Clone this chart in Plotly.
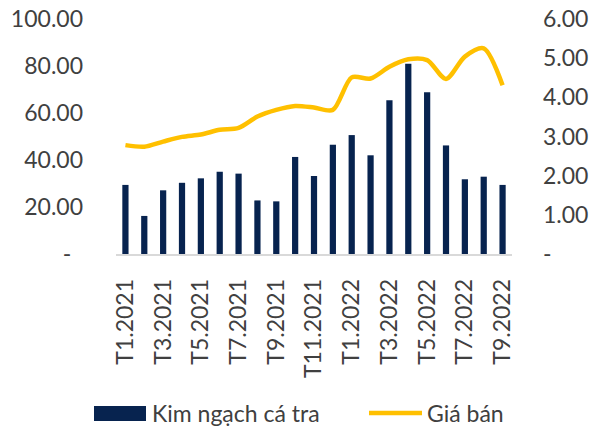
import plotly.graph_objects as go

months = ["T1.2021", "T2.2021", "T3.2021", "T4.2021", "T5.2021", "T6.2021", "T7.2021",
          "T8.2021", "T9.2021", "T10.2021", "T11.2021", "T12.2021", "T1.2022", "T2.2022",
          "T3.2022", "T4.2022", "T5.2022", "T6.2022", "T7.2022", "T8.2022", "T9.2022"]
kim_ngach = [29.4, 16.2, 27.1, 30.3, 32.2, 35.0, 34.2, 22.8, 22.4, 41.3, 33.2,
             46.5, 50.6, 42.0, 65.4, 81.0, 68.8, 46.2, 31.8, 32.9, 29.4]
gia_ban = [2.78, 2.74, 2.87, 2.99, 3.05, 3.17, 3.22, 3.51, 3.68, 3.78, 3.74,
           3.68, 4.51, 4.48, 4.78, 4.97, 4.95, 4.47, 5.04, 5.25, 4.31]
left_ticks = [0, 20, 40, 60, 80, 100]
left_text = ["-\u00a0\u00a0", "20.00", "40.00", "60.00", "80.00", "100.00"]
right_ticks = [0, 1, 2, 3, 4, 5, 6]
right_text = ["-\u00a0\u00a0\u00a0\u00a0", "1.00", "2.00", "3.00", "4.00", "5.00", "6.00"]
x_ticks = months[::2]
series_names = ["Kim ngạch cá tra", "Giá bán"]

NAVY = "#07234f"
GOLD = "#FFC000"
TXT = "#404040"
FONT = "Lato"
FS = 23

fig = go.Figure()
fig.add_trace(go.Bar(x=months, y=kim_ngach, name=series_names[0], marker_color=NAVY,
                     marker_line_width=0, yaxis="y"))
fig.add_trace(go.Scatter(x=months, y=gia_ban, name=series_names[1], mode="lines",
                         line=dict(color=GOLD, width=4.5, shape="spline", smoothing=0.8),
                         yaxis="y2"))

fig.update_layout(
    width=590, height=430,
    margin=dict(l=116, r=78, t=19, b=176, autoexpand=False),
    paper_bgcolor="white", plot_bgcolor="white",
    showlegend=False,
    bargap=0.67,
    font=dict(family=FONT, size=FS, color=TXT),
    xaxis=dict(type="category", tickvals=x_ticks, ticktext=x_ticks, tickangle=-90,
               showgrid=False, showline=True, linecolor="#D9D9D9", linewidth=1.5,
               automargin=False, ticks="", ticklabelstandoff=14,
               tickfont=dict(size=FS, color=TXT, family=FONT)),
    yaxis=dict(range=[0, 100], tickvals=left_ticks, ticktext=left_text, showgrid=False,
               zeroline=False, showline=False, ticks="", ticklabelstandoff=32,
               automargin=False, tickfont=dict(size=FS, color=TXT, family=FONT)),
    yaxis2=dict(range=[0, 6], tickvals=right_ticks, ticktext=right_text, overlaying="y",
                side="right", showgrid=False, zeroline=False, showline=False, ticks="",
                automargin=False, ticklabelstandoff=30,
                tickfont=dict(size=FS, color=TXT, family=FONT)),
)

# custom legend (paper coords relative to plot area 116..512 x, 19..254 y)
def px(xp):
    return (xp - 116) / 396.0

def py(yp):
    return (254 - yp) / 235.0

fig.add_shape(type="rect", xref="paper", yref="paper", x0=px(94), x1=px(146),
              y0=py(421), y1=py(406), fillcolor=NAVY, line_width=0)
fig.add_annotation(xref="paper", yref="paper", x=px(150), y=py(413), xanchor="left",
                   yanchor="middle", text=series_names[0], showarrow=False,
                   font=dict(size=FS, color=TXT, family=FONT))
fig.add_shape(type="line", xref="paper", yref="paper", x0=px(369), x1=px(422),
              y0=py(413), y1=py(413), line=dict(color=GOLD, width=4.5))
fig.add_annotation(xref="paper", yref="paper", x=px(425), y=py(413), xanchor="left",
                   yanchor="middle", text=series_names[1], showarrow=False,
                   font=dict(size=FS, color=TXT, family=FONT))

fig.write_html("out.html", config={"displayModeBar": False},
               post_script="document.body.style.margin='0';document.body.style.padding='0';")
